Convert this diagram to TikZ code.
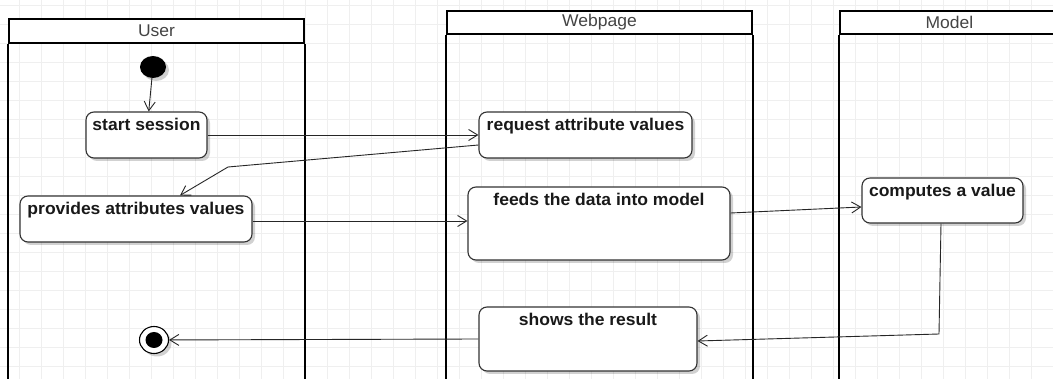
\documentclass[tikz,border=0pt]{standalone}
\usepackage{fontspec}
\setmainfont{Liberation Sans}[FakeStretch=1.03]
\usetikzlibrary{arrows.meta,shadows,shapes.geometric}
\definecolor{gridc}{HTML}{EFEFEF}
\definecolor{boxc}{HTML}{333333}
\definecolor{headtxt}{HTML}{444444}
\begin{document}
\begin{tikzpicture}[x=1pt,y=-1pt,
  lanehead/.style={draw=black, line width=2.4pt, fill=white, inner sep=0pt,
    text=headtxt, font=\fontsize{17}{19}\selectfont},
  laneline/.style={draw=black, line width=2.4pt},
  act/.style={draw=boxc, line width=1.1pt, rounded corners=8pt, fill=white,
    inner sep=0pt,
    drop shadow={shadow xshift=3pt, shadow yshift=-3pt, opacity=0.18, fill=black}},
  lbl/.style={anchor=mid, yshift=-16.5pt, inner sep=0pt,
    font=\bfseries\fontsize{17}{19}\selectfont, text=black!90},
  flow/.style={draw=black!85, line width=0.9pt,
    -{Straight Barb[length=9pt,width=11pt,line width=0.9pt]}},
]
\useasboundingbox (0,0) rectangle (1053,379);
\fill[white] (0,0) rectangle (1053,379);
% grid
\foreach \k in {0,...,47} {\draw[gridc, line width=0.6pt] (19+22*\k,0) -- (19+22*\k,379);}
\foreach \k in {0,...,19} {\draw[gridc, line width=0.6pt] (0,5+19*\k) -- (1053,5+19*\k);}

% swimlanes
\node[lanehead, minimum width=295pt, minimum height=24pt] (userH) at (156.5,31) {User};
\draw[laneline] (userH.south west) -- ++(0,360);
\draw[laneline] (userH.south east) -- ++(0,360);
\node[lanehead, minimum width=305pt, minimum height=23pt] (webH) at (599.5,22.5) {Webpage};
\draw[laneline] (webH.south west) -- ++(0,370);
\draw[laneline] (webH.south east) -- ++(0,370);
\node[lanehead, minimum width=219pt, minimum height=23pt] (modH) at (949.5,22.5) {Model};
\draw[laneline] (modH.south west) -- ++(0,370);

% start / end
\node[ellipse, fill=black, inner sep=0pt, minimum width=26pt, minimum height=22pt,
  drop shadow={shadow xshift=3pt, shadow yshift=-3pt, opacity=0.18, fill=black}] (init) at (153,67) {};
\node[ellipse, draw=black, line width=1.1pt, fill=white, inner sep=0pt,
  minimum width=29pt, minimum height=27pt,
  drop shadow={shadow xshift=3pt, shadow yshift=-3pt, opacity=0.18, fill=black},
  path picture={\fill[black] (path picture bounding box.center) ellipse (8.5pt and 8pt);}] (final) at (154,340) {};

% activities
\node[act, minimum width=121pt, minimum height=46pt, label={[lbl]north:start session}] (start) at (146.5,135) {};
\node[act, minimum width=213pt, minimum height=46pt, label={[lbl]north:request attribute values}] (request) at (585.5,135) {};
\node[act, minimum width=232pt, minimum height=46pt, label={[lbl]north:provides attributes values}] (provides) at (136,219) {};
\node[act, minimum width=262pt, minimum height=73pt, label={[lbl]north:feeds the data into model}] (feeds) at (599,223.5) {};
\node[act, minimum width=161pt, minimum height=45pt, label={[lbl]north:computes a value}] (computes) at (942.5,200.5) {};
\node[act, minimum width=218pt, minimum height=64pt, label={[lbl]north:shows the result}] (shows) at (588,339) {};

% connectors
\coordinate (w1) at (228,167);
\coordinate (e1) at (180,0);
\coordinate (w2) at (939,334);
\draw[flow] (init) -- (start);
\draw[flow] (start.east) -- (request.west);
\draw[flow] ([yshift=-10pt]request.west) -- (w1) -- (provides.north -| e1);
\draw[flow] ([yshift=-2pt]provides.east) -- ([yshift=-2pt]provides.east -| feeds.west);
\draw[flow] ([yshift=10.5pt]feeds.east) -- ([yshift=-6.5pt]computes.west);
\draw[flow] ([xshift=-1.5pt]computes.south) -- (w2) -- ([yshift=-2pt]shows.east);
\draw[flow] (shows.west) -- (final);
\end{tikzpicture}
\end{document}
